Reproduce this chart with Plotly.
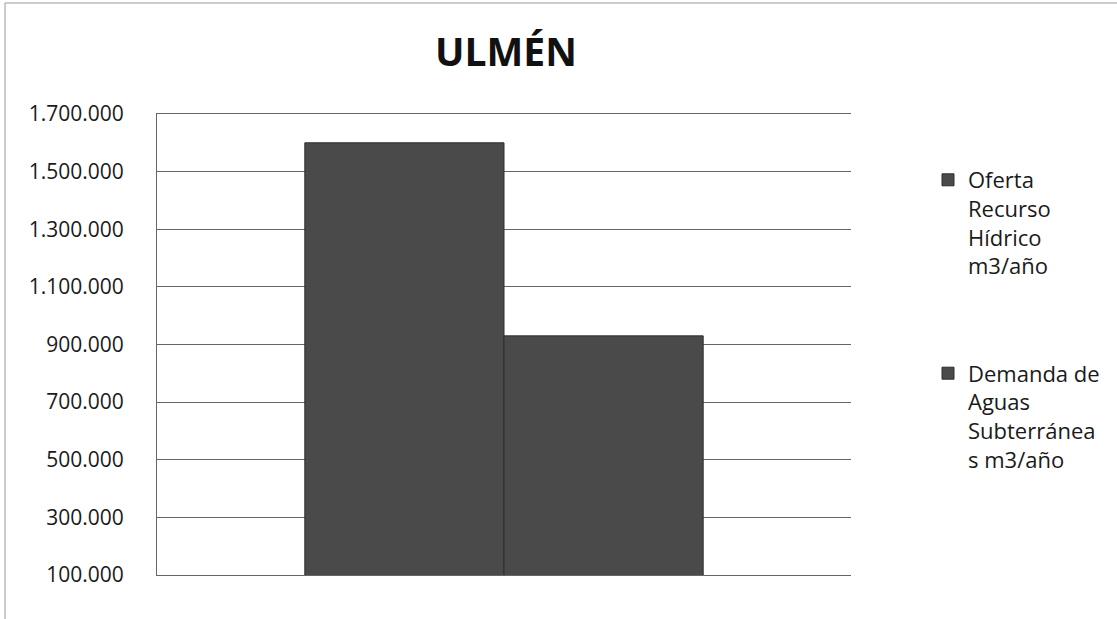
import plotly.graph_objects as go

W, H = 1117, 619
ML, MR, MT, MB = 157, 266, 114, 44

title_text = "ULMÉN"
category = [""]
series_names = ["Oferta<br>Recurso<br>Hídrico<br>m3/año",
                "Demanda de<br>Aguas<br>Subterránea<br>s m3/año"]
oferta = [1600000]
demanda = [930000]
tick_vals = [100000, 300000, 500000, 700000, 900000, 1100000, 1300000, 1500000, 1700000]

bar_color = "#4a4a4a"
font_family = "Open Sans"

fig = go.Figure()
fig.add_trace(go.Bar(x=category, y=oferta, name=series_names[0], legendgroup="a",
                     marker=dict(color=bar_color, line=dict(color="#2e2e2e", width=1))))
fig.add_trace(go.Bar(x=category, y=demanda, name=series_names[1], legendgroup="b",
                     marker=dict(color=bar_color, line=dict(color="#2e2e2e", width=1))))

pw = W - ML - MR
ph = H - MT - MB
def px_x(p):
    return (p - ML) / pw
def px_y(p):
    return (H - MB - p) / ph

fig.update_layout(
    width=W, height=H,
    margin=dict(l=ML, r=MR, t=MT, b=MB),
    paper_bgcolor="white", plot_bgcolor="white",
    separators=",.",
    barmode="group", bargap=0.426, bargroupgap=0,
    font=dict(family=font_family, color="#1a1a1a"),
    title=dict(text="<b>" + title_text + "</b>", x=506 / W, xanchor="center",
               y=1 - 52 / H, yanchor="middle", yref="container",
               font=dict(size=39, family=font_family, color="#111")),
    xaxis=dict(showticklabels=False, showgrid=False, showline=True, mirror=True,
               linecolor="#666", linewidth=1, ticks="", zeroline=False),
    yaxis=dict(range=[100000, 1700000], tickvals=tick_vals, tickformat=",d",
               showgrid=True, gridcolor="#666", gridwidth=1,
               showline=True, linecolor="#666", linewidth=1, zeroline=False,
               ticks="", ticklabelstandoff=28,
               tickfont=dict(size=21, family=font_family, color="#1a1a1a")),
    legend=dict(x=px_x(928), xanchor="left", y=px_y(159), yanchor="top",
                font=dict(size=22, family=font_family, color="#1a1a1a"),
                valign="top", tracegroupgap=76, traceorder="grouped",
                bgcolor="rgba(0,0,0,0)"),
    shapes=[
        dict(type="line", xref="paper", yref="paper", x0=px_x(5), x1=px_x(5),
             y0=px_y(3), y1=px_y(H), line=dict(color="#999", width=1)),
        dict(type="line", xref="paper", yref="paper", x0=px_x(5), x1=px_x(W),
             y0=px_y(3), y1=px_y(3), line=dict(color="#999", width=1)),
    ],
)

fig.write_html("out.html", config={"displayModeBar": False},
               post_script="document.body.style.margin='0px';")
